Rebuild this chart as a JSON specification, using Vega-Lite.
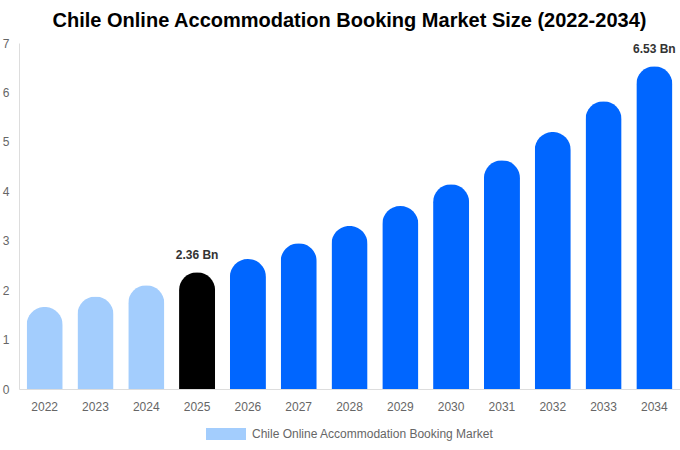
{
  "$schema": "https://vega.github.io/schema/vega-lite/v6.json",
  "width": 680,
  "height": 450,
  "autosize": {"type": "fit", "contains": "padding"},
  "padding": {"left": 2, "right": 0, "top": 11, "bottom": 10},
  "background": "white",
  "title": {
    "text": "Chile Online Accommodation Booking Market Size (2022-2034)",
    "font": "Liberation Sans",
    "fontSize": 20,
    "fontWeight": "bold",
    "color": "#000000",
    "anchor": "middle",
    "offset": 6
  },
  "data": {
    "values": [
      {"year": 2022, "value": 1.66, "label": ""},
      {"year": 2023, "value": 1.87, "label": ""},
      {"year": 2024, "value": 2.1, "label": ""},
      {"year": 2025, "value": 2.36, "label": "2.36 Bn"},
      {"year": 2026, "value": 2.63, "label": ""},
      {"year": 2027, "value": 2.95, "label": ""},
      {"year": 2028, "value": 3.3, "label": ""},
      {"year": 2029, "value": 3.7, "label": ""},
      {"year": 2030, "value": 4.14, "label": ""},
      {"year": 2031, "value": 4.63, "label": ""},
      {"year": 2032, "value": 5.2, "label": ""},
      {"year": 2033, "value": 5.82, "label": ""},
      {"year": 2034, "value": 6.53, "label": "6.53 Bn"}
    ]
  },
  "encoding": {
    "x": {
      "field": "year",
      "type": "ordinal",
      "title": null,
      "scale": {"paddingInner": 0.29, "paddingOuter": 0.15},
      "axis": {
        "labelAngle": 0,
        "labelColor": "#666666",
        "labelFontSize": 12,
        "labelFont": "Liberation Sans",
        "labelPadding": 12,
        "ticks": false,
        "domainColor": "#dddddd"
      }
    },
    "y": {
      "field": "value",
      "type": "quantitative",
      "title": null,
      "scale": {"domain": [0, 7], "nice": false},
      "axis": {
        "values": [0, 1, 2, 3, 4, 5, 6, 7],
        "labelColor": "#666666",
        "labelFontSize": 12,
        "labelFont": "Liberation Sans",
        "labelPadding": 10,
        "ticks": false,
        "grid": false,
        "domain": true,
        "domainColor": "#dddddd"
      }
    }
  },
  "layer": [
    {
      "mark": {"type": "bar", "cornerRadiusTopLeft": 18, "cornerRadiusTopRight": 18},
      "encoding": {
        "color": {
          "condition": [
            {"test": "datum.year == 2025", "value": "#000000"},
            {"test": "datum.year < 2025", "value": "#a3cdfd"}
          ],
          "value": "#0066ff"
        }
      }
    },
    {
      "mark": {"type": "bar", "opacity": 0},
      "encoding": {
        "color": {
          "datum": "Chile Online Accommodation Booking Market",
          "scale": {"range": ["#a3cdfd"]},
          "legend": {
            "orient": "bottom",
            "title": null,
            "symbolType": "M-1,-0.3H1V0.3H-1Z",
            "symbolSize": 1600,
            "symbolOpacity": 1,
            "symbolStrokeWidth": 0,
            "labelColor": "#666666",
            "labelFontSize": 12,
            "labelFont": "Liberation Sans",
            "labelOffset": 6,
            "labelLimit": 500,
            "offset": 2
          }
        }
      }
    },
    {
      "transform": [{"filter": "datum.label != ''"}],
      "mark": {
        "type": "text",
        "dy": -10,
        "baseline": "bottom",
        "font": "Liberation Sans",
        "fontSize": 12,
        "fontWeight": "bold",
        "color": "#333333"
      },
      "encoding": {"text": {"field": "label"}}
    }
  ],
  "config": {
    "view": {"stroke": null},
    "legend": {"layout": {"anchor": "middle"}}
  }
}
